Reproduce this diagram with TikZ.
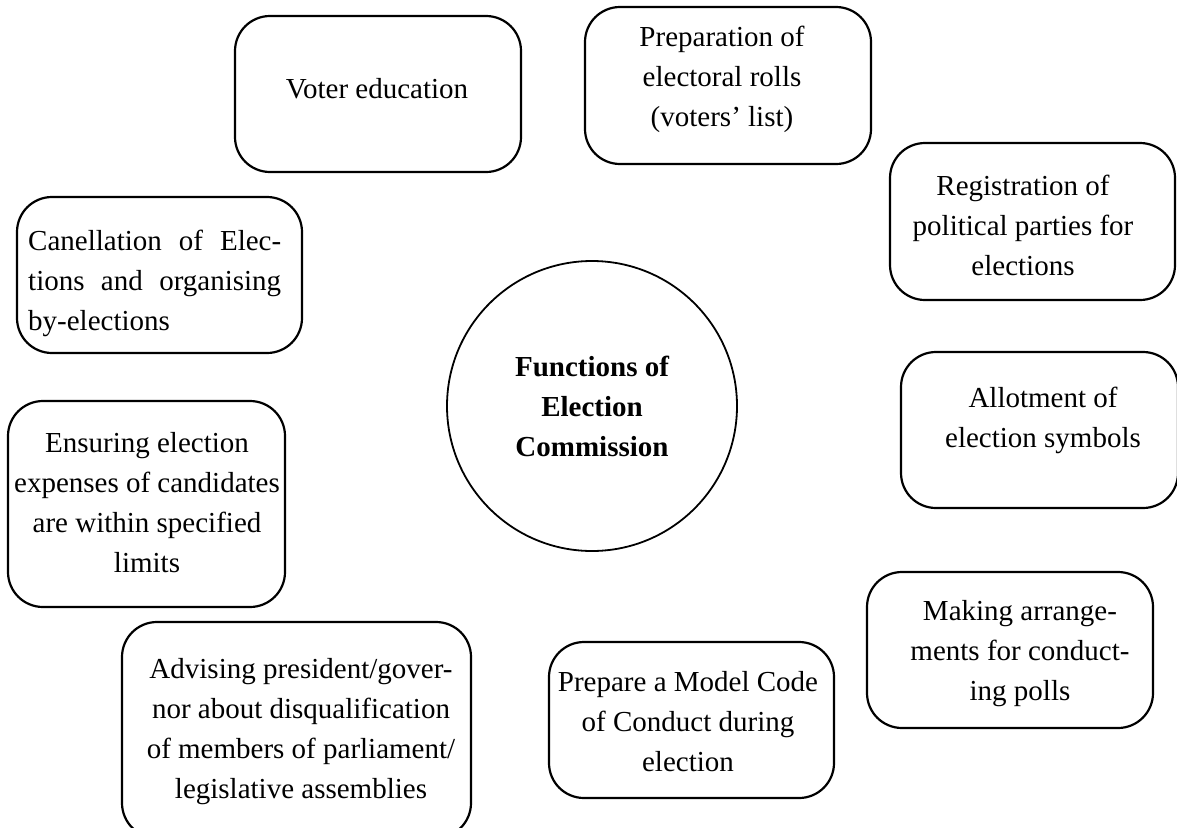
\documentclass[tikz,border=0pt]{standalone}
\usepackage{fontspec}
\setmainfont{Liberation Serif}
\begin{document}
\begin{tikzpicture}[x=1pt,y=-1pt,
  fbox/.style={draw, line width=2.2pt, rounded corners=35pt, inner sep=0pt},
  ftext/.style={align=center, inner sep=0pt, anchor=north, font=\fontsize{29}{40}\selectfont},
  hub/.style={circle, draw, line width=1.8pt, minimum size=290pt, inner sep=0pt, align=center, font=\fontsize{29}{40}\selectfont\bfseries}
]
\useasboundingbox (0,0) rectangle (1177,827);
% centre
\node[hub] (c) at (592,406) {Functions of\\Election\\Commission};
% boxes
\node[fbox, minimum width=286pt, minimum height=156pt] (b1) at (378,94) {};
\node[ftext] (t1) at (377,78) {Voter education};
\node[fbox, minimum width=286pt, minimum height=157pt] (b2) at (728,85.5) {};
\node[ftext] (t2) at (722,26) {Preparation of\\electoral rolls\\(voters’ list)};
\node[fbox, minimum width=285pt, minimum height=157pt] (b3) at (1032.5,221.5) {};
\node[ftext] (t3) at (1023,175) {Registration of\\political parties for\\elections};
\node[fbox, minimum width=277pt, minimum height=156pt] (b4) at (1039.5,430) {};
\node[ftext] (t4) at (1043,387) {Allotment of\\election symbols};
\node[fbox, minimum width=286pt, minimum height=156pt] (b5) at (1010,650) {};
\node[ftext] (t5) at (1020,600) {Making arrange-\\ments for conduct-\\ing polls};
\node[fbox, minimum width=285pt, minimum height=156pt] (b6) at (691.5,720) {};
\node[ftext] (t6) at (688,671) {Prepare a Model Code\\of Conduct during\\election};
\node[fbox, minimum width=349pt, minimum height=216pt] (b7) at (296.5,730) {};
\node[ftext] (t7) at (301,658) {Advising president/gover-\\nor about disqualification\\of members of parliament/\\legislative assemblies};
\node[fbox, minimum width=277pt, minimum height=206pt] (b8) at (146.5,504) {};
\node[ftext] (t8) at (147,432) {Ensuring election\\expenses of candidates\\are within specified\\limits};
\node[fbox, minimum width=285pt, minimum height=156pt] (b9) at (159.5,275) {};
\node[ftext, align=left, anchor=north west] (t9) at (28,230) {\makebox[253pt][s]{Canellation of Elec-}\\\makebox[253pt][s]{tions and organising}\\by-elections};
\end{tikzpicture}
\end{document}
